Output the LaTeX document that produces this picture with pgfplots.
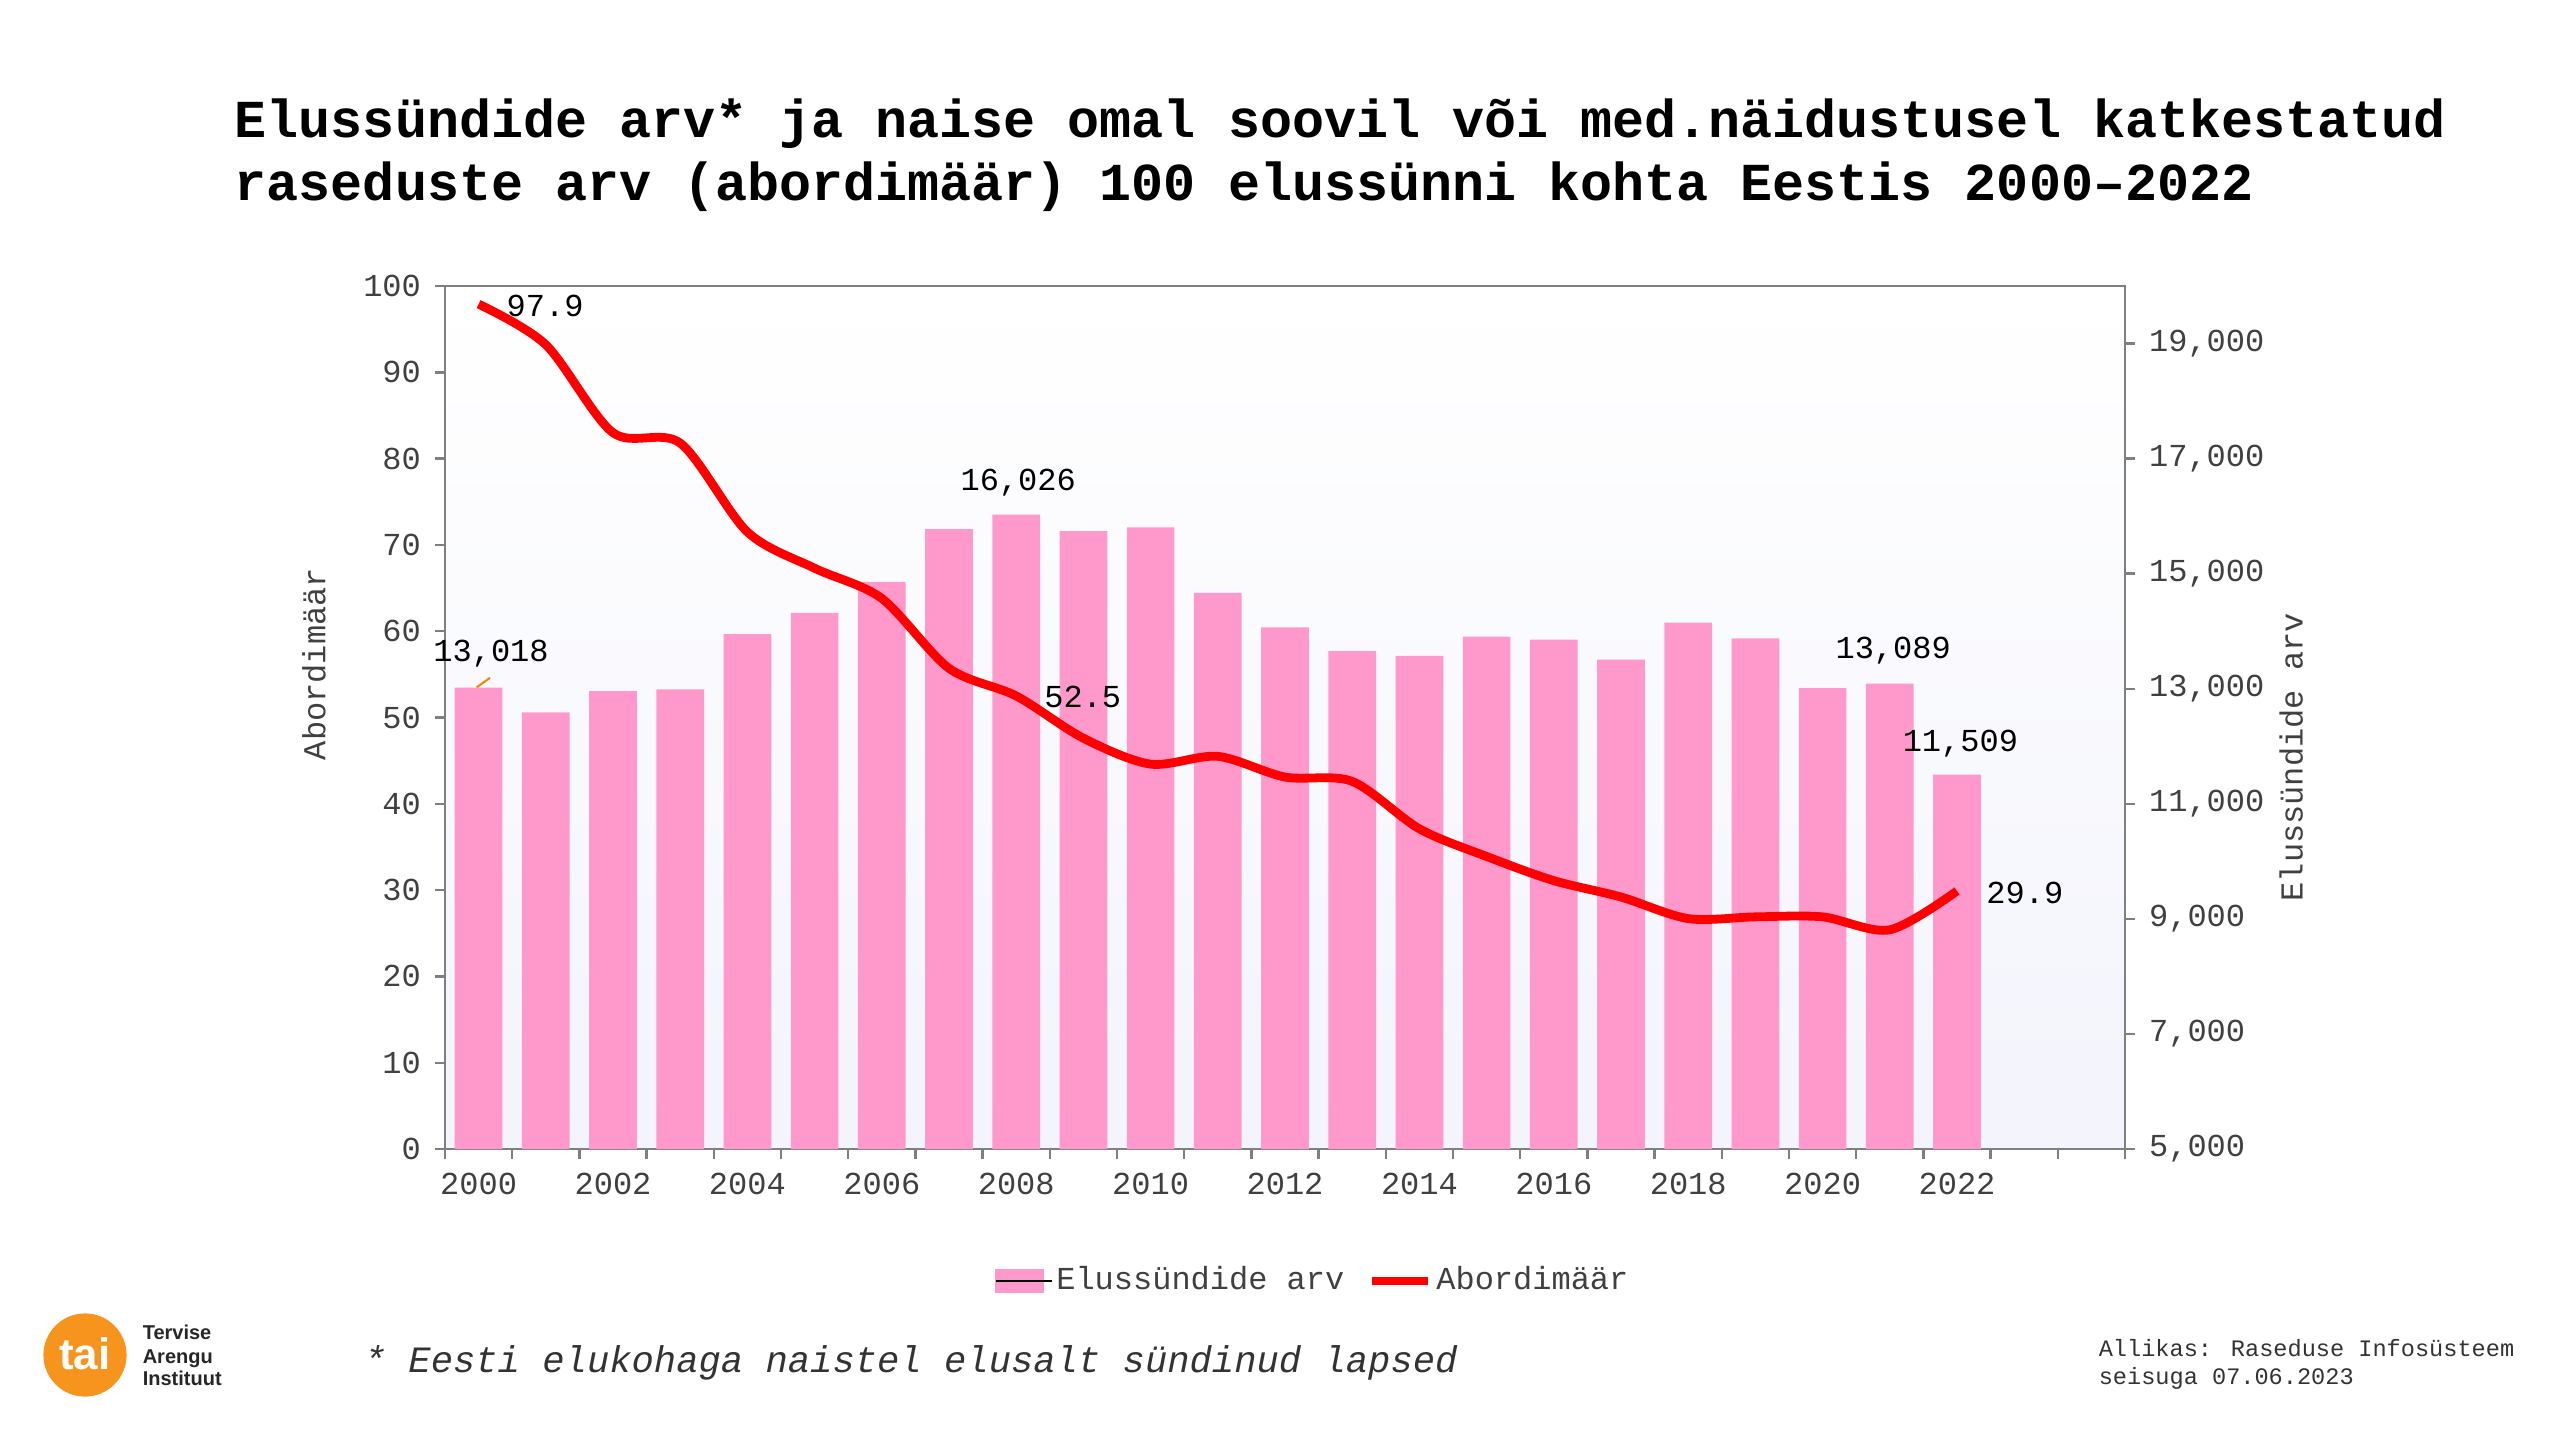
\documentclass[border=0pt]{standalone}
\usepackage{pgfplots}
\pgfplotsset{compat=1.18}
\usepackage{fontspec}
\setmainfont{Liberation Mono}
\newfontfamily\logofont{Liberation Sans}
\definecolor{barpink}{HTML}{FF99CC}
\definecolor{linered}{HTML}{FF0000}
\definecolor{axgray}{HTML}{7F7F7F}
\definecolor{bgbot}{HTML}{F3F4FC}
\definecolor{tickgray}{HTML}{404040}
\definecolor{taiorange}{HTML}{F7941D}

\pgfplotsset{common/.style={
  scale only axis, width=420pt, height=215.75pt,
  at={(111.25pt,72.75pt)}, anchor=south west,
  xmin=-0.5, xmax=24.5,
  tick align=outside,
  major tick length=2.5pt, minor tick length=2.5pt,
  tick style={axgray, line width=0.6pt},
  axis line style={axgray, line width=0.6pt},
  tick label style={font=\fontsize{8}{9}\selectfont, text=tickgray},
  label style={font=\fontsize{8}{9}\selectfont, text=tickgray},
  scaled y ticks=false,
  /pgf/number format/assume math mode=true,
  /pgf/number format/1000 sep={,},
}}

\begin{document}
\begin{tikzpicture}
\path[use as bounding box] (0,0) rectangle (640pt,360pt);

% title
\node[anchor=base west, inner sep=0, font=\fontsize{13.35}{16}\selectfont\bfseries] at (58.5pt,325.75pt)
  {Elussündide arv* ja naise omal soovil või med.näidustusel katkestatud};
\node[anchor=base west, inner sep=0, font=\fontsize{13.35}{16}\selectfont\bfseries] at (58.5pt,310pt)
  {raseduste arv (abordimäär) 100 elussünni kohta Eestis 2000–2022};

% bars (right axis)
\begin{axis}[common,
  ymin=5000, ymax=20000,
  ytick={5000,7000,...,19000}, ytick pos=right,
  xtick={0,2,...,22},
  xticklabels={2000,2002,2004,2006,2008,2010,2012,2014,2016,2018,2020,2022},
  xtick pos=bottom,
  major x tick style={draw=none},
  minor xtick={-0.5,0.5,...,24.5},
  axis background/.style={top color=white, bottom color=bgbot},
  ylabel={Elussündide arv},
  ylabel style={at={(axis description cs:1.099,0.454)}, anchor=center},
]
\addplot[ybar, bar width=0.71, fill=barpink, draw=none] coordinates {
(0,13018) (1,12590) (2,12958) (3,12990) (4,13950) (5,14318) (6,14856)
(7,15773) (8,16026) (9,15741) (10,15805) (11,14667) (12,14066) (13,13655)
(14,13571) (15,13908) (16,13855) (17,13507) (18,14150) (19,13876) (20,13012)
(21,13089) (22,11509)
};
\end{axis}

% line (left axis)
\begin{axis}[common,
  ymin=0, ymax=100,
  ytick={0,10,...,100}, ytick pos=left,
  hide x axis,
  clip=false,
  ylabel={Abordimäär},
  ylabel style={at={(axis description cs:-0.078,0.562)}, anchor=center},
  legend columns=2,
  legend style={at={(axis description cs:0.517,-0.153)}, anchor=center,
    draw=none, fill=none, font=\fontsize{8}{9}\selectfont, text=tickgray,
    /tikz/every even column/.append style={column sep=5pt},
    nodes={inner sep=1pt}},
]
\addlegendimage{legend image code/.code={\fill[barpink] (0pt,-2.9pt) rectangle (12pt,2.9pt); \path (0pt,0pt) -- (14pt,0pt);}}
\addlegendentry{Elussündide arv}
\addplot[linered, line width=2.2pt, smooth,
  legend image code/.code={\draw[linered, line width=2pt] (0pt,0pt) -- (14pt,0pt);}]
  coordinates {
(0,97.9) (1,93.2) (2,83.0) (3,81.8) (4,71.5) (5,67.3) (6,63.8) (7,55.7)
(8,52.5) (9,47.6) (10,44.6) (11,45.5) (12,43.1) (13,42.6) (14,37.1)
(15,33.9) (16,31.1) (17,29.2) (18,26.7) (19,26.9) (20,26.9) (21,25.4)
(22,29.9)
};
\addlegendentry{Abordimäär}

\begin{scope}[font=\fontsize{8}{9}\selectfont]
\node at (axis cs:0.99,97.7) {97.9};
\node at (axis cs:8.03,77.2) {16,026};
\node at (axis cs:0.185,57.4) {13,018};
\draw[orange, line width=0.5pt] (axis cs:-0.028,53.5) -- (axis cs:0.17,54.6);
\node at (axis cs:8.99,52.4) {52.5};
\node at (axis cs:21.05,57.7) {13,089};
\node at (axis cs:22.05,47.0) {11,509};
\node at (axis cs:23.01,29.7) {29.9};
\end{scope}
\end{axis}

% logo
\fill[taiorange] (21.25pt,21.25pt) circle (10.4pt);
\node[text=white, font=\logofont\fontsize{11}{12}\selectfont\bfseries] at (21.25pt,21.5pt) {tai};
\begin{scope}[font=\logofont\fontsize{5}{6}\selectfont\bfseries, text=black!85]
\node[anchor=base west, inner sep=0] at (35.5pt,25.25pt) {Tervise};
\node[anchor=base west, inner sep=0] at (35.5pt,19.25pt) {Arengu};
\node[anchor=base west, inner sep=0] at (35.5pt,13.75pt) {Instituut};
\end{scope}

% footnote
\node[anchor=base west, inner sep=0, font=\fontsize{9.3}{11}\selectfont\itshape, text=black!80] at (90.75pt,17pt)
  {* Eesti elukohaga naistel elusalt sündinud lapsed};

% source
\node[anchor=base west, inner sep=0, font=\fontsize{5.9}{7}\selectfont, text=black!80] at (524.5pt,21pt)
  {Allikas: Raseduse Infosüsteem};
\node[anchor=base west, inner sep=0, font=\fontsize{5.9}{7}\selectfont, text=black!80] at (524.5pt,14pt)
  {seisuga 07.06.2023};
\end{tikzpicture}
\end{document}
